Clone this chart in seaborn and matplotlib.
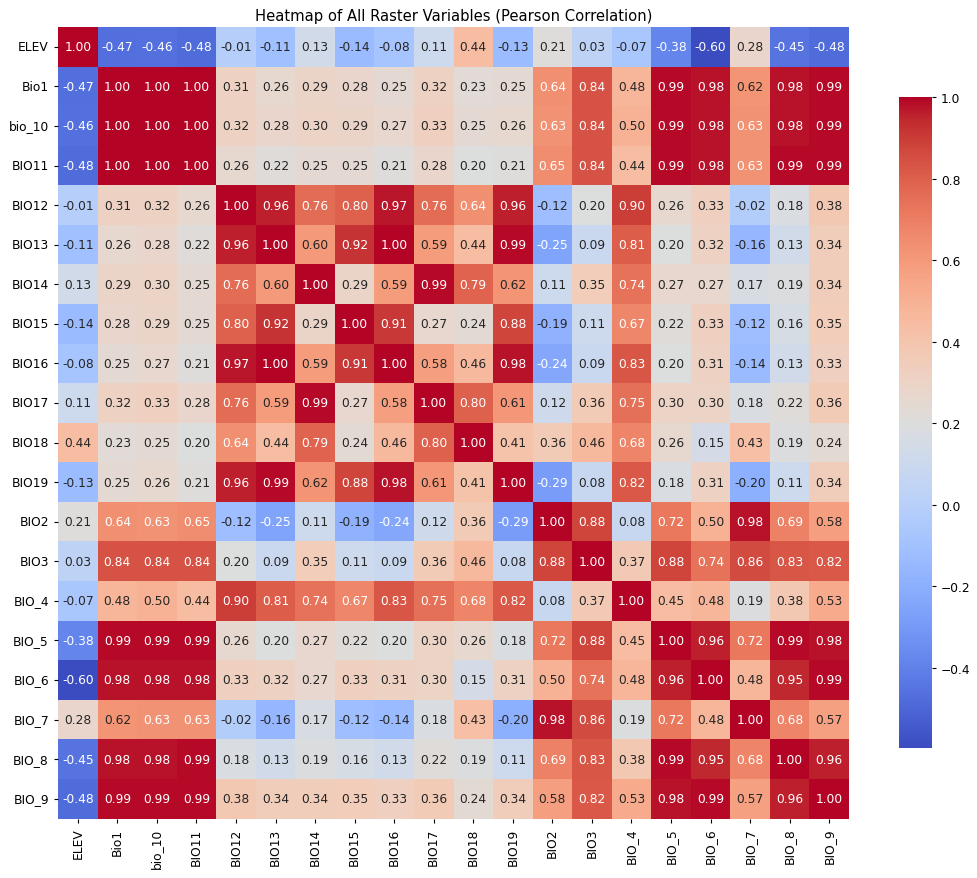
import numpy as np
import pandas as pd
import matplotlib
matplotlib.use("Agg")
import matplotlib.pyplot as plt
import seaborn as sns

labels = ["ELEV", "Bio1", "bio_10", "BIO11", "BIO12", "BIO13", "BIO14", "BIO15", "BIO16",
          "BIO17", "BIO18", "BIO19", "BIO2", "BIO3", "BIO_4", "BIO_5", "BIO_6", "BIO_7",
          "BIO_8", "BIO_9"]

row_ELEV = [1.00, -0.47, -0.46, -0.48, -0.01, -0.11, 0.13, -0.14, -0.08, 0.11, 0.44, -0.13, 0.21, 0.03, -0.07, -0.38, -0.60, 0.28, -0.45, -0.48]
row_Bio1 = [-0.47, 1.00, 1.00, 1.00, 0.31, 0.26, 0.29, 0.28, 0.25, 0.32, 0.23, 0.25, 0.64, 0.84, 0.48, 0.99, 0.98, 0.62, 0.98, 0.99]
row_bio_10 = [-0.46, 1.00, 1.00, 1.00, 0.32, 0.28, 0.30, 0.29, 0.27, 0.33, 0.25, 0.26, 0.63, 0.84, 0.50, 0.99, 0.98, 0.63, 0.98, 0.99]
row_BIO11 = [-0.48, 1.00, 1.00, 1.00, 0.26, 0.22, 0.25, 0.25, 0.21, 0.28, 0.20, 0.21, 0.65, 0.84, 0.44, 0.99, 0.98, 0.63, 0.99, 0.99]
row_BIO12 = [-0.01, 0.31, 0.32, 0.26, 1.00, 0.96, 0.76, 0.80, 0.97, 0.76, 0.64, 0.96, -0.12, 0.20, 0.90, 0.26, 0.33, -0.02, 0.18, 0.38]
row_BIO13 = [-0.11, 0.26, 0.28, 0.22, 0.96, 1.00, 0.60, 0.92, 1.00, 0.59, 0.44, 0.99, -0.25, 0.09, 0.81, 0.20, 0.32, -0.16, 0.13, 0.34]
row_BIO14 = [0.13, 0.29, 0.30, 0.25, 0.76, 0.60, 1.00, 0.29, 0.59, 0.99, 0.79, 0.62, 0.11, 0.35, 0.74, 0.27, 0.27, 0.17, 0.19, 0.34]
row_BIO15 = [-0.14, 0.28, 0.29, 0.25, 0.80, 0.92, 0.29, 1.00, 0.91, 0.27, 0.24, 0.88, -0.19, 0.11, 0.67, 0.22, 0.33, -0.12, 0.16, 0.35]
row_BIO16 = [-0.08, 0.25, 0.27, 0.21, 0.97, 1.00, 0.59, 0.91, 1.00, 0.58, 0.46, 0.98, -0.24, 0.09, 0.83, 0.20, 0.31, -0.14, 0.13, 0.33]
row_BIO17 = [0.11, 0.32, 0.33, 0.28, 0.76, 0.59, 0.99, 0.27, 0.58, 1.00, 0.80, 0.61, 0.12, 0.36, 0.75, 0.30, 0.30, 0.18, 0.22, 0.36]
row_BIO18 = [0.44, 0.23, 0.25, 0.20, 0.64, 0.44, 0.79, 0.24, 0.46, 0.80, 1.00, 0.41, 0.36, 0.46, 0.68, 0.26, 0.15, 0.43, 0.19, 0.24]
row_BIO19 = [-0.13, 0.25, 0.26, 0.21, 0.96, 0.99, 0.62, 0.88, 0.98, 0.61, 0.41, 1.00, -0.29, 0.08, 0.82, 0.18, 0.31, -0.20, 0.11, 0.34]
row_BIO2 = [0.21, 0.64, 0.63, 0.65, -0.12, -0.25, 0.11, -0.19, -0.24, 0.12, 0.36, -0.29, 1.00, 0.88, 0.08, 0.72, 0.50, 0.98, 0.69, 0.58]
row_BIO3 = [0.03, 0.84, 0.84, 0.84, 0.20, 0.09, 0.35, 0.11, 0.09, 0.36, 0.46, 0.08, 0.88, 1.00, 0.37, 0.88, 0.74, 0.86, 0.83, 0.82]
row_BIO_4 = [-0.07, 0.48, 0.50, 0.44, 0.90, 0.81, 0.74, 0.67, 0.83, 0.75, 0.68, 0.82, 0.08, 0.37, 1.00, 0.45, 0.48, 0.19, 0.38, 0.53]
row_BIO_5 = [-0.38, 0.99, 0.99, 0.99, 0.26, 0.20, 0.27, 0.22, 0.20, 0.30, 0.26, 0.18, 0.72, 0.88, 0.45, 1.00, 0.96, 0.72, 0.99, 0.98]
row_BIO_6 = [-0.60, 0.98, 0.98, 0.98, 0.33, 0.32, 0.27, 0.33, 0.31, 0.30, 0.15, 0.31, 0.50, 0.74, 0.48, 0.96, 1.00, 0.48, 0.95, 0.99]
row_BIO_7 = [0.28, 0.62, 0.63, 0.63, -0.02, -0.16, 0.17, -0.12, -0.14, 0.18, 0.43, -0.20, 0.98, 0.86, 0.19, 0.72, 0.48, 1.00, 0.68, 0.57]
row_BIO_8 = [-0.45, 0.98, 0.98, 0.99, 0.18, 0.13, 0.19, 0.16, 0.13, 0.22, 0.19, 0.11, 0.69, 0.83, 0.38, 0.99, 0.95, 0.68, 1.00, 0.96]
row_BIO_9 = [-0.48, 0.99, 0.99, 0.99, 0.38, 0.34, 0.34, 0.35, 0.33, 0.36, 0.24, 0.34, 0.58, 0.82, 0.53, 0.98, 0.99, 0.57, 0.96, 1.00]

rows = [row_ELEV, row_Bio1, row_bio_10, row_BIO11, row_BIO12, row_BIO13, row_BIO14, row_BIO15,
        row_BIO16, row_BIO17, row_BIO18, row_BIO19, row_BIO2, row_BIO3, row_BIO_4, row_BIO_5,
        row_BIO_6, row_BIO_7, row_BIO_8, row_BIO_9]

corr = pd.DataFrame(rows, index=labels, columns=labels)

fs = 8.8
fig = plt.figure(figsize=(9.78, 8.79), dpi=100)
ax = fig.add_axes([58 / 978, 1 - 819.5 / 879, 791 / 978, 791.5 / 879])
cax = fig.add_axes([899.5 / 978, 1 - 749.3 / 879, 32.5 / 978, 651 / 879])
sns.heatmap(corr, annot=True, fmt=".2f", cmap="coolwarm", ax=ax, cbar_ax=cax,
            vmin=-0.597, vmax=1.0, annot_kws={"fontsize": fs})
ax.set_title("Heatmap of All Raster Variables (Pearson Correlation)", fontsize=10.6, pad=5)
ax.tick_params(labelsize=fs, length=3)
cax.tick_params(labelsize=fs, length=3)
fig.savefig("out.png", dpi=100)
